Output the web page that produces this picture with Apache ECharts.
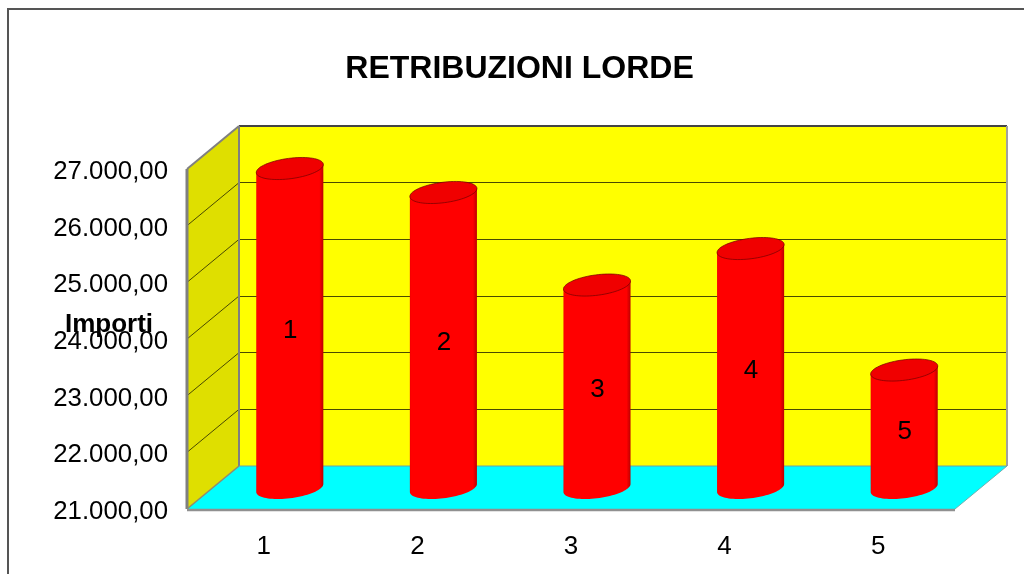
<!DOCTYPE html>
<html><head><meta charset="utf-8">
<style>html,body{margin:0;padding:0;background:#fff}#c{width:1024px;height:574px}</style>
<script src="https://cdn.jsdelivr.net/npm/echarts@6/dist/echarts.min.js"></script>
</head><body><div id="c"></div>
<script>
const categories = ['1','2','3','4','5'];
const retribuzioni = [26638, 26215, 24582, 25226, 23082];
const axisMin = 21000, axisMax = 27000, axisStep = 1000;
const chartTitle = 'RETRIBUZIONI LORDE';
const axisName = 'Importi';

const FONT = '"Liberation Sans", Arial, sans-serif';
const DX = 52, DY = 43;             // full depth of the 3-D box
const BX = 26, BY = 21;             // where the bars stand inside it
const A = 33.8, B = 10.2, TILT = 7.5 * Math.PI / 180;

function ell(cx, cy, t) {
  const c = Math.cos(t), s = Math.sin(t), C = Math.cos(TILT), S = Math.sin(TILT);
  return [cx + A * c * C + B * s * S, cy - A * c * S + B * s * C];
}
const T0 = Math.atan2(B * Math.sin(TILT), A * Math.cos(TILT));

function renderBox(params, api) {
  const r = params.coordSys;
  const x0 = r.x, x1 = r.x + r.width, yTop = r.y, yBot = r.y + r.height;
  const kids = [];
  kids.push({type:'polygon', shape:{points:[[x0,yTop],[x0+DX,yTop-DY],[x0+DX,yBot-DY],[x0,yBot]]},
    style:{fill:'#dfdf00', stroke:null}});
  kids.push({type:'polygon', shape:{points:[[x0,yBot],[x0+DX,yBot-DY],[x1+DX,yBot-DY],[x1,yBot]]},
    style:{fill:'#00ffff', stroke:null}});
  for (let v = axisMin + axisStep; v < axisMax; v += axisStep) {
    const y = api.coord([0, v])[1];
    kids.push({type:'line', shape:{x1:x0,y1:y,x2:x0+DX,y2:y-DY}, style:{stroke:'#4a4a00', lineWidth:1}});
  }
  const edge = (a,b,c,w,d) => kids.push({type:'line', shape:{x1:a,y1:b,x2:c,y2:d}, style:{stroke:w[0], lineWidth:w[1]}});
  edge(x0+DX,yTop-DY,x1+DX,[ '#444444',2],yTop-DY);
  edge(x0,yTop,x0+DX,['#808080',2],yTop-DY);
  edge(x0,yTop,x0,['#808080',3],yBot);
  edge(x0+DX,yTop-DY,x0+DX,['#808080',2],yBot-DY);
  edge(x1+DX,yTop-DY,x1+DX,['#a0a0a0',2],yBot-DY);
  edge(x0,yBot,x0+DX,['#908a70',1.5],yBot-DY);
  edge(x0+DX,yBot-DY,x1+DX,['#70a0a0',1],yBot-DY);
  edge(x1,yBot,x1+DX,['#70b0b0',1],yBot-DY);
  edge(x0,yBot+1,x1,['#909090',2.5],yBot+1);
  return {type:'group', children:kids};
}

function renderCyl(params, api) {
  const i = api.value(0), v = api.value(1);
  const top = api.coord([i, v]), base = api.coord([i, axisMin]);
  const cx = top[0] + BX, ty = top[1] - BY, by = base[1] - BY;
  const body = [ell(cx, ty, T0)];
  for (let k = 0; k <= 40; k++) body.push(ell(cx, by, T0 + Math.PI * k / 40));
  body.push(ell(cx, ty, T0 + Math.PI));
  const cap = [];
  for (let k = 0; k < 72; k++) cap.push(ell(cx, ty, k * Math.PI / 36));
  return {type:'group', children:[
    {type:'polygon', shape:{points:body}, style:{
      fill:{type:'linear',x:0,y:0,x2:1,y2:0,colorStops:[
        {offset:0,color:'#ee0000'},{offset:0.02,color:'#ff0000'},{offset:0.94,color:'#ff0000'},{offset:1,color:'#bb0000'}]},
      stroke:null}},
    {type:'polygon', shape:{points:cap}, style:{fill:'#f00000', stroke:'#700000', lineWidth:0.7}},
    {type:'text', x:cx+0.5, y:(ty+by)/2+3, style:{text:categories[i], fill:'#000', font:'26px '+FONT, align:'center', verticalAlign:'middle'}}
  ]};
}

const chart = echarts.init(document.getElementById('c'), null, {renderer:'canvas'});
chart.setOption({
  animation:false,
  backgroundColor:'#fff',
  title:[
    {text:chartTitle, left:514.5, top:48, textAlign:'center', textStyle:{fontFamily:FONT,fontWeight:'bold',fontSize:32,color:'#000'}},
    {text:axisName, left:104, top:307, textAlign:'center', textStyle:{fontFamily:FONT,fontWeight:'bold',fontSize:26,color:'#000'}}
  ],
  graphic:[{type:'polyline', silent:true, z:-1,
    shape:{points:[[8,574],[8,9],[1024,9]]}, style:{fill:null, stroke:'#555', lineWidth:2}}],
  grid:[
    {left:187, top:169, width:768, height:340, show:false},
    {left:239, top:126, width:768, height:340, show:true, backgroundColor:'#ffff00', borderWidth:0}
  ],
  xAxis:[
    {type:'category', gridIndex:0, data:categories, axisLine:{show:false}, axisTick:{show:false},
     axisLabel:{margin:25, fontFamily:FONT, fontSize:26, color:'#000'}},
    {type:'category', gridIndex:1, data:categories, show:false}
  ],
  yAxis:[
    {type:'value', gridIndex:0, min:axisMin, max:axisMax, interval:axisStep,
     axisLine:{show:false}, axisTick:{show:false}, splitLine:{show:false},
     axisLabel:{margin:19, fontFamily:FONT, fontSize:25.8, color:'#000', verticalAlign:'top', lineHeight:6,
       formatter:v => String(v).replace(/(\d+)(\d{3})$/, '$1.$2') + ',00'}},
    {type:'value', gridIndex:1, min:axisMin, max:axisMax, interval:axisStep,
     axisLine:{show:false}, axisTick:{show:false}, axisLabel:{show:false},
     splitLine:{show:true, lineStyle:{color:'#4a4a00', width:1}}}
  ],
  series:[
    {type:'custom', xAxisIndex:0, yAxisIndex:0, data:[[0,axisMin]], renderItem:renderBox, silent:true, z:1, clip:false},
    {type:'custom', name:'Retribuzioni', xAxisIndex:0, yAxisIndex:0, z:3, clip:false,
     data:retribuzioni.map((v,i)=>[i,v]), encode:{x:0,y:1}, renderItem:renderCyl}
  ]
});
</script></body></html>
